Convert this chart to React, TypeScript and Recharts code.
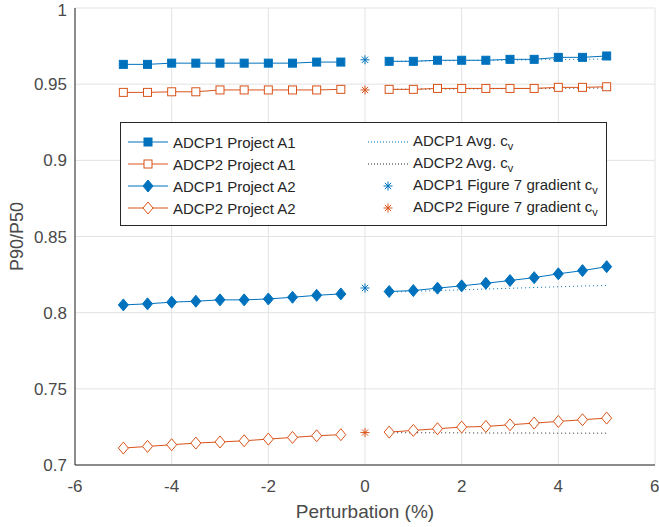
import React from 'react';
import { ComposedChart, Line, XAxis, YAxis, CartesianGrid } from 'recharts';

const BLUE = '#0072BD';
const ORANGE = '#D95319';
const TEXT = '#262626';
const FONT = 'Liberation Sans, Arial, sans-serif';

// perturbation (%) positions, gap at 0 where the star markers sit
const perturbation = [-5, -4.5, -4, -3.5, -3, -2.5, -2, -1.5, -1, -0.5, 0, 0.5, 1, 1.5, 2, 2.5, 3, 3.5, 4, 4.5, 5];
const avgPerturbation = [0.5, 1, 1.5, 2, 2.5, 3, 3.5, 4, 4.5, 5];

const adcp1ProjectA1 = [0.963, 0.963, 0.9638, 0.9638, 0.9638, 0.9638, 0.9638, 0.9638, 0.9645, 0.9645, null,
  0.965, 0.965, 0.9657, 0.9657, 0.9657, 0.9663, 0.9663, 0.9676, 0.9676, 0.9685];
const adcp2ProjectA1 = [0.9446, 0.9446, 0.945, 0.945, 0.9462, 0.9462, 0.9462, 0.9462, 0.9462, 0.9466, null,
  0.9466, 0.9466, 0.9472, 0.9472, 0.9472, 0.9472, 0.9472, 0.9479, 0.9479, 0.9483];
const adcp1ProjectA2 = [0.8051, 0.8058, 0.8069, 0.8075, 0.8084, 0.8084, 0.809, 0.8101, 0.8114, 0.8123, null,
  0.8139, 0.8145, 0.8161, 0.8176, 0.8193, 0.8211, 0.823, 0.8255, 0.8276, 0.8302];
const adcp2ProjectA2 = [0.7111, 0.7122, 0.7133, 0.7144, 0.7151, 0.7159, 0.717, 0.7181, 0.7192, 0.7199, null,
  0.7216, 0.7227, 0.7238, 0.7249, 0.7253, 0.7264, 0.7275, 0.7286, 0.7297, 0.7308];

const adcp1AvgA1 = [0.965, 0.9652, 0.9653, 0.9655, 0.9657, 0.9658, 0.966, 0.9662, 0.9663, 0.9665];
const adcp2AvgA1 = [0.9466, 0.9467, 0.9468, 0.9469, 0.947, 0.9471, 0.9472, 0.9473, 0.9474, 0.9475];
const adcp1AvgA2 = [0.8135, 0.814, 0.8145, 0.815, 0.8155, 0.816, 0.8165, 0.817, 0.8175, 0.8178];
const adcp2AvgA2 = [0.7212, 0.7212, 0.7211, 0.7211, 0.721, 0.721, 0.721, 0.7209, 0.7209, 0.7209];

const adcp1Gradient = [0.966, 0.8162];
const adcp2Gradient = [0.9462, 0.7213];

const xTicks = [-6, -4, -2, 0, 2, 4, 6];
const yTicks = [0.7, 0.75, 0.8, 0.85, 0.9, 0.95, 1];

const toPoints = (xs: number[], ys: (number | null)[]) => xs.map((x, i) => ({ x, y: ys[i] }));
const starPoints = (ys: number[]) => ys.map((y) => ({ x: 0, y }));

type Shape = 'square' | 'squareOpen' | 'diamond' | 'diamondOpen' | 'star';

function Marker({ cx, cy, shape, color }: { cx: number; cy: number; shape: Shape; color: string }) {
  if (cx == null || cy == null || isNaN(cx) || isNaN(cy)) return null;
  if (shape === 'square' || shape === 'squareOpen') {
    const filled = shape === 'square';
    return <rect x={cx - 4} y={cy - 4} width={8} height={8} fill={filled ? color : '#fff'} stroke={color} strokeWidth={1} />;
  }
  if (shape === 'diamond' || shape === 'diamondOpen') {
    const filled = shape === 'diamond';
    return (
      <path d={`M${cx},${cy - 6}L${cx + 5},${cy}L${cx},${cy + 6}L${cx - 5},${cy}Z`}
        fill={filled ? color : '#fff'} stroke={color} strokeWidth={1} />
    );
  }
  const r = 4.5;
  const d = r * 0.7;
  return (
    <g stroke={color} strokeWidth={1}>
      <line x1={cx - r} y1={cy} x2={cx + r} y2={cy} />
      <line x1={cx} y1={cy - r} x2={cx} y2={cy + r} />
      <line x1={cx - d} y1={cy - d} x2={cx + d} y2={cy + d} />
      <line x1={cx - d} y1={cy + d} x2={cx + d} y2={cy - d} />
    </g>
  );
}

const dotOf = (shape: Shape, color: string) => (props: any) =>
  <Marker key={props.key ?? `${shape}-${props.index}`} cx={props.cx} cy={props.cy} shape={shape} color={color} />;

function Sub({ text }: { text: string }) {
  return (
    <span>
      {text}<sub style={{ fontSize: 11, verticalAlign: -4 }}>v</sub>
    </span>
  );
}

function LegendBox() {
  const row = { display: 'flex', alignItems: 'center', height: 22 } as const;
  const sample = (shape: Shape | 'none', color: string, line: 'solid' | 'dotted' | 'none') => (
    <svg width={42} height={16} style={{ marginRight: 4 }}>
      {line === 'solid' && <line x1={1} y1={8} x2={41} y2={8} stroke={color} strokeWidth={1} />}
      {line === 'dotted' && <line x1={1} y1={8} x2={41} y2={8} stroke={color} strokeWidth={1} strokeDasharray="1 2" />}
      {shape !== 'none' && <Marker cx={21} cy={8} shape={shape} color={color} />}
    </svg>
  );
  return (
    <div style={{
      position: 'absolute', left: 120, top: 122,
      width: 487, height: 104, border: `1px solid ${TEXT}`, background: '#fff',
      fontFamily: FONT, fontSize: 15, color: TEXT,
      display: 'flex', padding: '8px 0 0 6px', boxSizing: 'border-box',
    }}>
      <div style={{ width: 240 }}>
        <div style={row}>{sample('square', BLUE, 'solid')}ADCP1 Project A1</div>
        <div style={row}>{sample('squareOpen', ORANGE, 'solid')}ADCP2 Project A1</div>
        <div style={row}>{sample('diamond', BLUE, 'solid')}ADCP1 Project A2</div>
        <div style={row}>{sample('diamondOpen', ORANGE, 'solid')}ADCP2 Project A2</div>
      </div>
      <div>
        <div style={row}>{sample('none', BLUE, 'dotted')}<Sub text="ADCP1 Avg. c" /></div>
        <div style={row}>{sample('none', TEXT, 'dotted')}<Sub text="ADCP2 Avg. c" /></div>
        <div style={row}>{sample('star', BLUE, 'none')}<Sub text="ADCP1 Figure 7 gradient c" /></div>
        <div style={row}>{sample('star', ORANGE, 'none')}<Sub text="ADCP2 Figure 7 gradient c" /></div>
      </div>
    </div>
  );
}

const tickStyle = { fontSize: 17, fill: '#4a4a4a', fontFamily: FONT };

export default function App() {
  return (
    <div style={{ position: 'absolute', left: 0, top: 0, width: 659, height: 527, background: '#fff' }}>
      <ComposedChart width={659} height={527} margin={{ top: 8, right: 4, left: 0, bottom: 0 }}>
        <CartesianGrid stroke="#e3e3e3" horizontal vertical />
        <XAxis dataKey="x" type="number" domain={[-6, 6]} ticks={xTicks} allowDataOverflow
          height={62} tickLine={false} tickSize={13} tick={tickStyle}
          axisLine={{ stroke: TEXT }}
          label={{ value: 'Perturbation (%)', position: 'insideBottom', offset: 9, fill: '#4a4a4a', fontSize: 19, fontFamily: FONT }} />
        <XAxis xAxisId="top" orientation="top" dataKey="x" type="number" domain={[-6, 6]} height={0}
          tick={false} tickLine={false} axisLine={{ stroke: TEXT }} />
        <YAxis type="number" domain={[0.7, 1]} ticks={yTicks} allowDataOverflow width={75}
          tickLine={false} tick={tickStyle} axisLine={{ stroke: TEXT }} tickMargin={2}
          label={{ value: 'P90/P50', angle: -90, position: 'insideLeft', offset: 17, fill: '#4a4a4a', fontSize: 18, fontFamily: FONT, style: { textAnchor: 'middle' } }} />
        <YAxis yAxisId="right" orientation="right" width={0} tick={false} tickLine={false} axisLine={{ stroke: TEXT }} />

        <Line data={toPoints(avgPerturbation, adcp1AvgA1)} dataKey="y" name="ADCP1 Avg. cv A1" stroke={BLUE} strokeDasharray="1 3" dot={false} isAnimationActive={false} />
        <Line data={toPoints(avgPerturbation, adcp2AvgA1)} dataKey="y" name="ADCP2 Avg. cv A1" stroke={TEXT} strokeDasharray="1 3" dot={false} isAnimationActive={false} />
        <Line data={toPoints(avgPerturbation, adcp1AvgA2)} dataKey="y" name="ADCP1 Avg. cv A2" stroke={BLUE} strokeDasharray="1 3" dot={false} isAnimationActive={false} />
        <Line data={toPoints(avgPerturbation, adcp2AvgA2)} dataKey="y" name="ADCP2 Avg. cv A2" stroke={TEXT} strokeDasharray="1 3" dot={false} isAnimationActive={false} />

        <Line data={toPoints(perturbation, adcp1ProjectA1)} dataKey="y" name="ADCP1 Project A1" stroke={BLUE} dot={dotOf('square', BLUE)} isAnimationActive={false} />
        <Line data={toPoints(perturbation, adcp2ProjectA1)} dataKey="y" name="ADCP2 Project A1" stroke={ORANGE} dot={dotOf('squareOpen', ORANGE)} isAnimationActive={false} />
        <Line data={toPoints(perturbation, adcp1ProjectA2)} dataKey="y" name="ADCP1 Project A2" stroke={BLUE} dot={dotOf('diamond', BLUE)} isAnimationActive={false} />
        <Line data={toPoints(perturbation, adcp2ProjectA2)} dataKey="y" name="ADCP2 Project A2" stroke={ORANGE} dot={dotOf('diamondOpen', ORANGE)} isAnimationActive={false} />

        <Line data={starPoints(adcp1Gradient)} dataKey="y" name="ADCP1 Figure 7 gradient cv" stroke="none" dot={dotOf('star', BLUE)} isAnimationActive={false} />
        <Line data={starPoints(adcp2Gradient)} dataKey="y" name="ADCP2 Figure 7 gradient cv" stroke="none" dot={dotOf('star', ORANGE)} isAnimationActive={false} />
      </ComposedChart>
      <LegendBox />
    </div>
  );
}
